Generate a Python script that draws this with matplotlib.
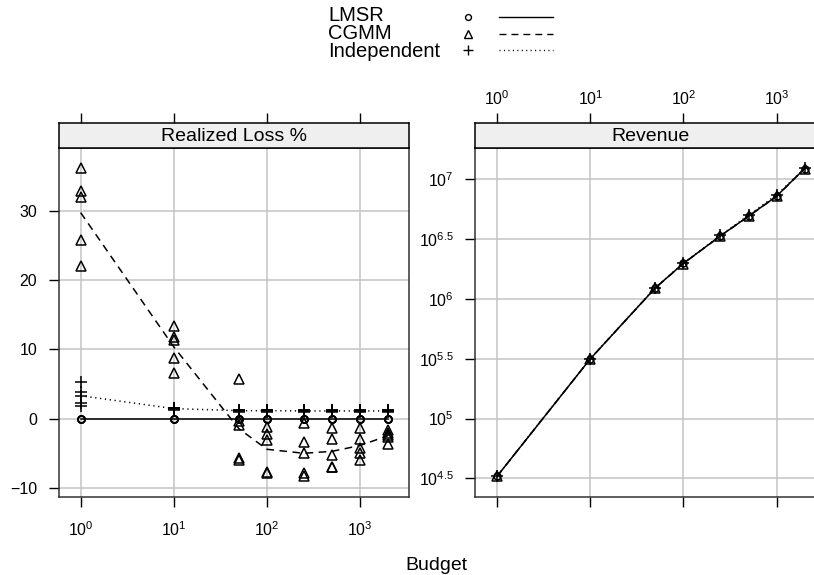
import numpy as np
import matplotlib.pyplot as plt
from matplotlib.lines import Line2D
from matplotlib.ticker import FixedLocator, NullLocator

plt.rcParams['font.family'] = ['Liberation Sans', 'DejaVu Sans']
plt.rcParams['mathtext.fontset'] = 'custom'
plt.rcParams['mathtext.rm'] = 'Liberation Sans'
plt.rcParams['mathtext.default'] = 'regular'

budgets = [1, 10, 50, 100, 250, 500, 1000, 2000]
methods = ['LMSR', 'CGMM', 'Independent']

# realized loss %, five runs per budget
loss_lmsr = [[0, 0, 0, 0, 0] for b in budgets]
loss_cgmm = [
    [36.2, 32.9, 32.0, 25.8, 22.0],
    [13.4, 11.8, 11.4, 8.7, 6.6],
    [5.8, -0.4, -0.9, -5.7, -6.0],
    [-1.2, -2.2, -3.1, -7.7, -7.9],
    [-0.6, -3.3, -4.9, -7.9, -8.3],
    [-1.4, -3.0, -5.2, -7.0, -7.0],
    [-1.3, -3.0, -4.2, -5.0, -5.9],
    [-1.6, -2.1, -2.4, -2.6, -3.6],
]
loss_indep = [
    [5.3, 3.8, 3.3, 2.3, 1.9],
    [1.6, 1.5, 1.5, 1.4, 1.3],
    [1.3, 1.2, 1.2, 1.1, 1.0],
    [1.3, 1.2, 1.2, 1.1, 1.0],
    [1.2, 1.2, 1.1, 1.1, 1.0],
    [1.2, 1.2, 1.1, 1.1, 1.0],
    [1.2, 1.2, 1.1, 1.1, 1.0],
    [1.2, 1.2, 1.1, 1.1, 1.0],
]

# revenue
rev_lmsr = [33100, 316000, 1239000, 1982000, 3365000, 4909000, 7211000, 12270000]
rev_cgmm = [33100, 316000, 1235000, 1975000, 3360000, 4900000, 7190000, 12250000]
rev_indep = [33200, 317000, 1245000, 1995000, 3390000, 5000000, 7400000, 12300000]

markers = ['o', '^', '+']
msizes = [5, 7, 8]
dashes = [(None, None), (5, 3.6), (0.8, 2.4)]

W, H = 814, 575


def box(x0, y0, x1, y1):
    return [x0 / W, 1 - y1 / H, (x1 - x0) / W, (y1 - y0) / H]


def setup_x(ax):
    ax.set_xscale('log')
    ax.set_xlim(10 ** -0.236, 10 ** 3.527)
    ax.xaxis.set_major_locator(FixedLocator([1, 10, 100, 1000]))
    ax.xaxis.set_minor_locator(NullLocator())
    ax.set_xticklabels([r'$10^{%d}$' % k for k in range(4)])


def panel(x0, x1, title, toplabels):
    ax = fig.add_axes(box(x0, 148, x1, 497.3))
    setup_x(ax)
    ax.tick_params(axis='x', direction='out', length=7.5, width=1, top=False,
                   labelbottom=not toplabels, labelsize=11.5, pad=9)
    ax.tick_params(axis='y', direction='out', length=7.5, width=1, right=False,
                   labelsize=11.5, pad=8)
    ax.grid(True, color='#c4c4c4', lw=1.1)
    ax.set_axisbelow(True)
    for s in ax.spines.values():
        s.set_color('#333333')
        s.set_linewidth(1.1)

    sax = fig.add_axes(box(x0, 122.7, x1, 148))
    setup_x(sax)
    sax.set_facecolor('#efefef')
    sax.set_yticks([])
    sax.xaxis.set_ticks_position('top')
    sax.tick_params(axis='x', direction='out', length=7.5, width=1,
                    labeltop=toplabels, labelbottom=False, labelsize=11.5, pad=3)
    for s in sax.spines.values():
        s.set_color('black')
        s.set_linewidth(1.1)
    sax.text(0.5, 0.45, title, transform=sax.transAxes, ha='center', va='center',
             fontsize=14)
    return ax


fig = plt.figure(figsize=(W / 100, H / 100), dpi=100)

# left panel: realized loss
ax1 = panel(58.7, 409, 'Realized Loss %', False)
ax1.set_ylim(-11.36, 39.12)
ax1.set_yticks([-10, 0, 10, 20, 30])
for vals, m, ms, d in zip([loss_lmsr, loss_cgmm, loss_indep], markers, msizes, dashes):
    xs = np.repeat(budgets, 5)
    ys = np.concatenate(vals)
    ax1.plot(xs, ys, ls='none', marker=m, ms=ms, mfc='none', mec='black', mew=1.1)
    line, = ax1.plot(budgets, [np.mean(v) for v in vals], color='black', lw=1.1)
    if d[0] is not None:
        line.set_dashes(d)

# right panel: revenue
ax2 = panel(475.3, 825.6, 'Revenue', True)
ax2.set_yscale('log')
ax2.set_ylim(10 ** 4.342, 10 ** 7.261)
ax2.yaxis.set_major_locator(FixedLocator([10 ** e for e in [4.5, 5, 5.5, 6, 6.5, 7]]))
ax2.yaxis.set_minor_locator(NullLocator())
ax2.set_yticklabels([r'$10^{4.5}$', r'$10^{5}$', r'$10^{5.5}$', r'$10^{6}$',
                     r'$10^{6.5}$', r'$10^{7}$'])
for vals, m, ms, d in zip([rev_lmsr, rev_cgmm, rev_indep], markers, msizes, dashes):
    ax2.plot(budgets, vals, ls='none', marker=m, ms=ms, mfc='none', mec='black', mew=1.1)
    line, = ax2.plot(budgets, vals, color='black', lw=1.1)
    if d[0] is not None:
        line.set_dashes(d)

fig.text(436 / W, 1 - 565 / H, 'Budget', ha='center', va='center', fontsize=14)

# key: names as one block of text, then symbol and line columns
fig.text(328 / W, 1 - 33.5 / H, '\n'.join(methods), ha='left', va='center',
         fontsize=14.5, linespacing=0.92)
for i, (m, ms, d) in enumerate(zip(markers, msizes, dashes)):
    y = 1 - (17 + 16.5 * i) / H
    fig.add_artist(Line2D([468 / W], [y], marker=m, ms=ms * 0.85, mfc='none',
                          mec='black', mew=1, ls='none'))
    ln = Line2D([499 / W, 553 / W], [y, y], color='black', lw=1)
    if d[0] is not None:
        ln.set_dashes(d)
    fig.add_artist(ln)

fig.savefig('out.png', dpi=100)
